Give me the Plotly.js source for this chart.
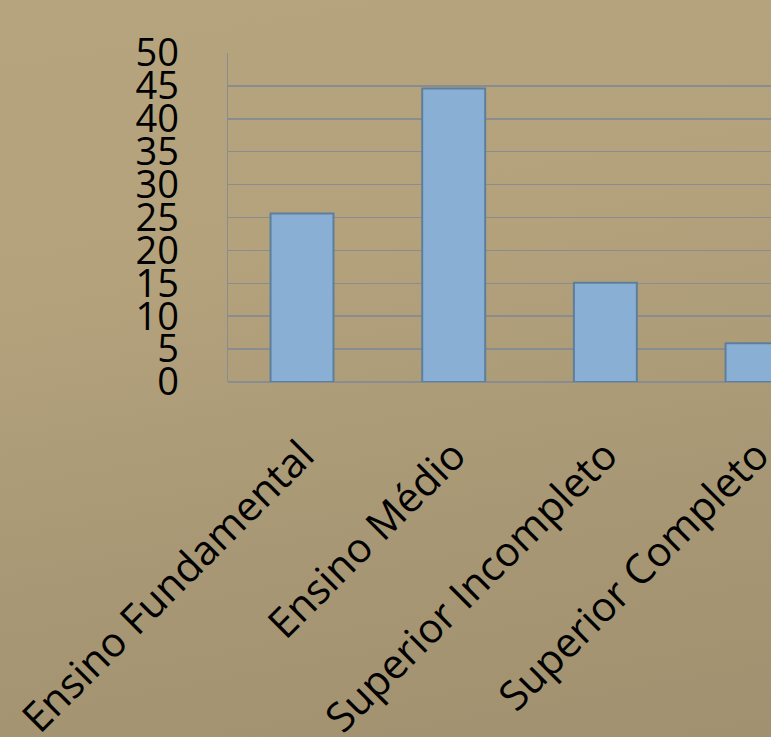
<!DOCTYPE html>
<html>
<head>
<meta charset="utf-8">
<script src="https://cdn.plot.ly/plotly-3.0.1.min.js"></script>
<style>
html, body { margin:0; padding:0; width:771px; height:737px; overflow:hidden; }
body { background: linear-gradient(170deg, #b5a47d 0%, #b3a27c 35%, #a79774 70%, #a19170 100%); }
#chart { width:771px; height:737px; }
</style>
</head>
<body>
<div id="chart"></div>
<script>
const categories = ["Ensino Fundamental", "Ensino Médio", "Superior Incompleto", "Superior Completo"];
const values = [25.6, 44.6, 15.1, 5.9];
const yTicks = [0, 5, 10, 15, 20, 25, 30, 35, 40, 45, 50];

const trace = {
  type: "bar",
  x: categories,
  y: values,
  width: 0.415,
  marker: { color: "#89b0d4", line: { color: "#5e7f9b", width: 2 } },
  hoverinfo: "none"
};

const layout = {
  width: 771, height: 737,
  margin: { l: 228, r: 0, t: 53, b: 355, pad: 0 },
  paper_bgcolor: "rgba(0,0,0,0)",
  plot_bgcolor: "rgba(0,0,0,0)",
  showlegend: false,
  xaxis: {
    type: "category",
    range: [-0.488, 3.092],
    tickangle: -45,
    tickfont: { family: "'Open Sans', sans-serif", size: 41, color: "#000" },
    showgrid: false,
    showline: false,
    zeroline: false,
    ticks: "",
    ticklabelstandoff: 40
  },
  yaxis: {
    range: [0, 50],
    tickvals: yTicks,
    ticktext: yTicks.map(String),
    tickfont: { family: "'Open Sans', sans-serif", size: 38, color: "#000" },
    showgrid: true,
    gridcolor: "#8a8d8f",
    gridwidth: 1.5,
    showline: true,
    linecolor: "#8a8d8f",
    linewidth: 1.5,
    zeroline: true,
    zerolinecolor: "#8a8d8f",
    zerolinewidth: 1.5,
    ticks: "",
    ticklabelstandoff: 40
  }
};

Plotly.newPlot("chart", [trace], layout, { displayModeBar: false, staticPlot: true });
</script>
</body>
</html>
